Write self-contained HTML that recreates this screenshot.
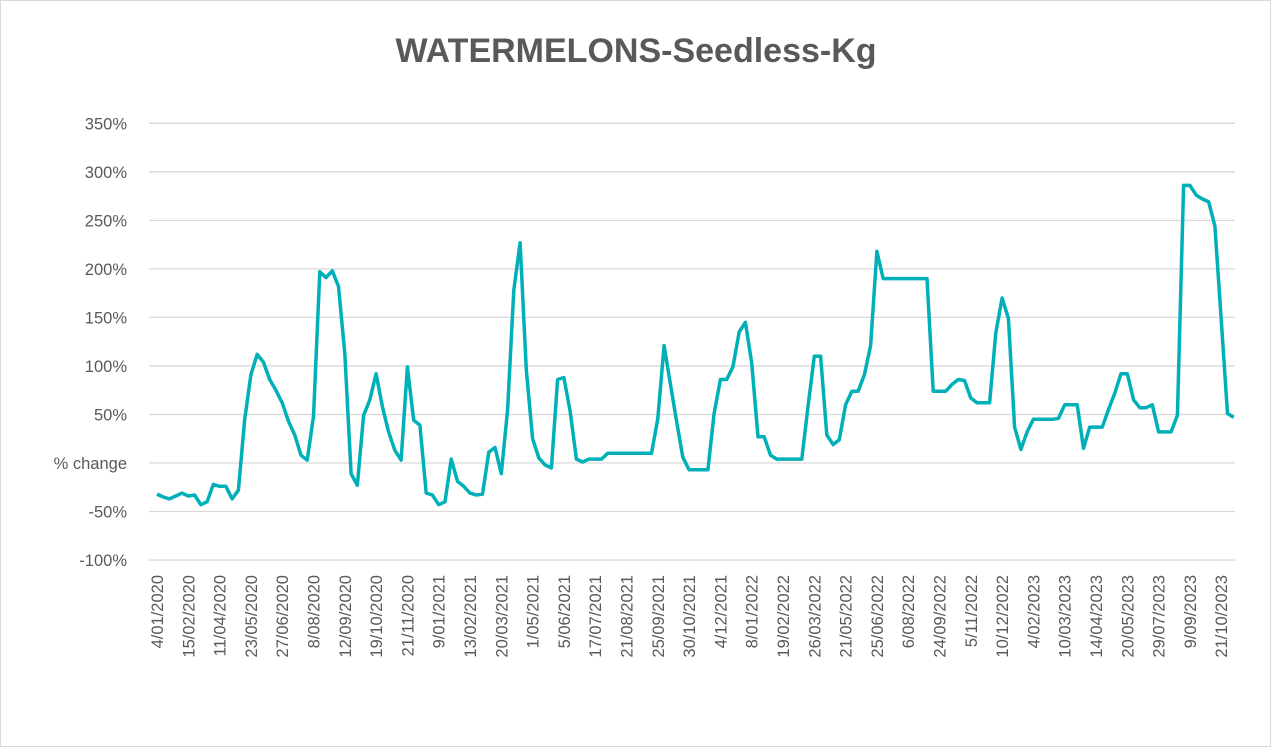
<!DOCTYPE html>
<html><head><meta charset="utf-8"><style>
html,body{margin:0;padding:0;background:#fff;}
svg{display:block;font-family:"Liberation Sans",Arial,sans-serif;}
</style></head><body>
<svg id="chart" width="1271" height="747" viewBox="0 0 1271 747">
<rect x="0.5" y="0.5" width="1270" height="746" fill="#fff" stroke="#d9d9d9"/>
<text x="636" y="62" text-anchor="middle" font-size="34" font-weight="bold" fill="#595959">WATERMELONS-Seedless-Kg</text>
<g id="grid"></g>
<g id="yaxis"></g>
<g id="xaxis"></g>
<path id="series" fill="none" stroke="#00b0b9" stroke-width="3.5" stroke-linejoin="round"/>
</svg>
<script>
const yTicks = [-100, -50, 0, 50, 100, 150, 200, 250, 300, 350];
const yTickLabels = ["-100%", "-50%", "% change", "50%", "100%", "150%", "200%", "250%", "300%", "350%"];
const xLabels = ["4/01/2020","15/02/2020","11/04/2020","23/05/2020","27/06/2020","8/08/2020","12/09/2020","19/10/2020","21/11/2020","9/01/2021","13/02/2021","20/03/2021","1/05/2021","5/06/2021","17/07/2021","21/08/2021","25/09/2021","30/10/2021","4/12/2021","8/01/2022","19/02/2022","26/03/2022","21/05/2022","25/06/2022","6/08/2022","24/09/2022","5/11/2022","10/12/2022","4/02/2023","10/03/2023","14/04/2023","20/05/2023","29/07/2023","9/09/2023","21/10/2023"];
const labelEvery = 5;
const values = [-32,-35,-37,-34,-31,-34,-33,-43,-40,-22,-24,-24,-37,-28,44,91,112,104,86,75,62,43,29,8,3,48,197,191,198,182,113,-11,-23,49,65,92,58,32,13,3,99,44,39,-31,-33,-43,-40,4,-19,-24,-31,-33,-32,11,16,-11,55,178,227,96,25,5,-2,-5,86,88,53,4,1,4,4,4,10,10,10,10,10,10,10,10,46,121,82,43,6,-7,-7,-7,-7,51,86,86,99,135,145,103,27,27,8,4,4,4,4,4,58,110,110,29,19,24,60,74,74,91,121,218,190,190,190,190,190,190,190,190,74,74,74,81,86,85,67,62,62,62,134,170,149,37,14,32,45,45,45,45,46,60,60,60,15,37,37,37,55,72,92,92,65,57,57,60,32,32,32,49,286,286,276,272,269,244,148,51,47];

const NS = "http://www.w3.org/2000/svg";
const plotL = 149, plotR = 1235, x0 = 157, dx = 6.26;
function yScale(v){ return 463 - v * 0.9706; }
function xScale(i){ return x0 + i * dx; }

const grid = document.getElementById('grid');
const yaxis = document.getElementById('yaxis');
yTicks.forEach((t, k) => {
  const ln = document.createElementNS(NS, 'line');
  ln.setAttribute('x1', plotL); ln.setAttribute('x2', plotR);
  ln.setAttribute('y1', yScale(t)); ln.setAttribute('y2', yScale(t));
  ln.setAttribute('stroke', '#d9d9d9'); ln.setAttribute('stroke-width', '1.3');
  
  
  grid.appendChild(ln);
  const tx = document.createElementNS(NS, 'text');
  tx.setAttribute('x', 127); tx.setAttribute('y', yScale(t) + 6);
  tx.setAttribute('text-anchor', 'end'); tx.setAttribute('font-size', '16.5'); tx.setAttribute('fill', '#595959');
  tx.textContent = yTickLabels[k];
  
  
  yaxis.appendChild(tx);
});

const xaxis = document.getElementById('xaxis');
xLabels.forEach((lab, j) => {
  const x = xScale(j * labelEvery);
  const tx = document.createElementNS(NS, 'text');
  tx.setAttribute('transform', 'translate(' + (x + 6) + ',575) rotate(-90)');
  tx.setAttribute('text-anchor', 'end'); tx.setAttribute('font-size', '16.5'); tx.setAttribute('fill', '#595959');
  tx.textContent = lab;
  
  
  xaxis.appendChild(tx);
});

let d = '';
values.forEach((v, i) => { d += (i ? 'L' : 'M') + xScale(i).toFixed(1) + ',' + yScale(v).toFixed(1); });
document.getElementById('series').setAttribute('d', d);
</script>
</body></html>
